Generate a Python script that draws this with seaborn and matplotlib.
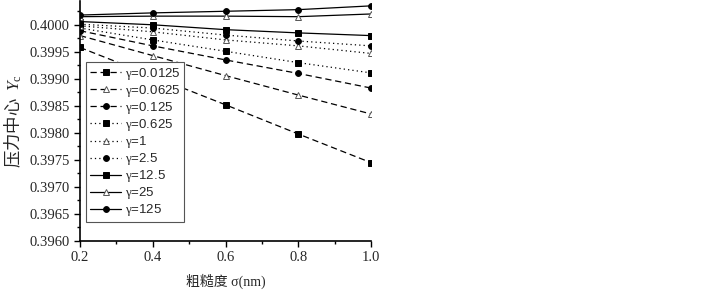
import numpy as np
import pandas as pd
import matplotlib
matplotlib.use('Agg')
import matplotlib.pyplot as plt
import seaborn as sns
from matplotlib.ticker import MultipleLocator, FormatStrFormatter

sigma = [0.2, 0.4, 0.6, 0.8, 1.0]
gammas = ['0.0125', '0.0625', '0.125', '0.625', '1', '2.5', '12.5', '25', '125']

g_0_0125 = [0.39958, 0.39905, 0.39852, 0.39798, 0.39745]
g_0_0625 = [0.39980, 0.39943, 0.39906, 0.39870, 0.39835]
g_0_125 = [0.39989, 0.39961, 0.39935, 0.39910, 0.39883]
g_0_625 = [0.39994, 0.39972, 0.39951, 0.39930, 0.39911]
g_1 = [0.39998, 0.39987, 0.39972, 0.39961, 0.39947]
g_2_5 = [0.40001, 0.39994, 0.39981, 0.39970, 0.39961]
g_12_5 = [0.40006, 0.40000, 0.39991, 0.39985, 0.39980]
g_25 = [0.40015, 0.40016, 0.40016, 0.40015, 0.40020]
g_125 = [0.40018, 0.40022, 0.40025, 0.40028, 0.40035]

series = [g_0_0125, g_0_0625, g_0_125, g_0_625, g_1, g_2_5, g_12_5, g_25, g_125]
styles = [(0, (5, 3))] * 3 + [(0, (1, 2.5))] * 3 + ['-'] * 3
marks = ['s', '^', 'o'] * 3

sns.set_style('ticks')
plt.rcParams['font.family'] = ['Liberation Serif', 'Noto Sans CJK SC']
plt.rcParams['mathtext.fontset'] = 'custom'
plt.rcParams['mathtext.rm'] = 'Liberation Serif'
plt.rcParams['mathtext.it'] = 'Liberation Serif:italic'

fig = plt.figure(figsize=(7.22, 2.91), dpi=100)
ax = fig.add_axes([80 / 722, 50 / 291, 291 / 722, 240 / 291])

for g, vals, ls, m in zip(gammas, series, styles, marks):
    face = 'white' if m == '^' else 'black'
    sns.lineplot(x=sigma, y=vals, ax=ax, color='black', linestyle=ls, linewidth=0.9,
                 marker=m, markersize=4.2, markerfacecolor=face,
                 markeredgecolor='#555555' if m == '^' else 'black', markeredgewidth=0.7,
                 label=r'$\mathrm{\gamma}$=' + g)

ax.set_xlim(0.2, 1.0)
ax.set_ylim(0.3960, 0.40044)
ax.xaxis.set_major_locator(MultipleLocator(0.2))
ax.xaxis.set_minor_locator(MultipleLocator(0.1))
ax.yaxis.set_major_locator(MultipleLocator(0.0005))
ax.yaxis.set_minor_locator(MultipleLocator(0.00025))
ax.xaxis.set_major_formatter(FormatStrFormatter('%.1f'))
ax.yaxis.set_major_formatter(FormatStrFormatter('%.4f'))
ax.tick_params(which='major', direction='out', length=4, width=1, labelsize=10.5, color='black')
ax.tick_params(which='minor', direction='out', length=2.5, width=1, color='black')
for s in ['top', 'right']:
    ax.spines[s].set_visible(False)
for s in ['left', 'bottom']:
    ax.spines[s].set_color('black')
    ax.spines[s].set_linewidth(1.2)

ax.set_xlabel('粗糙度 σ(nm)', fontsize=10, labelpad=7)
ax.set_ylabel(r'压力中心  $Y_\mathrm{c}$', fontsize=12.5, labelpad=4, family='Noto Sans CJK SC')

leg = ax.legend(loc='upper left', bbox_to_anchor=(0.02, 0.746), borderaxespad=0,
                prop={'family': ['Liberation Sans'], 'size': 9.5}, labelspacing=0.08,
                handlelength=2.4, handletextpad=0.25, borderpad=0.3, fancybox=False,
                framealpha=1, edgecolor='#555555')
leg.get_frame().set_linewidth(0.8)

fig.savefig('out.png', dpi=100)
